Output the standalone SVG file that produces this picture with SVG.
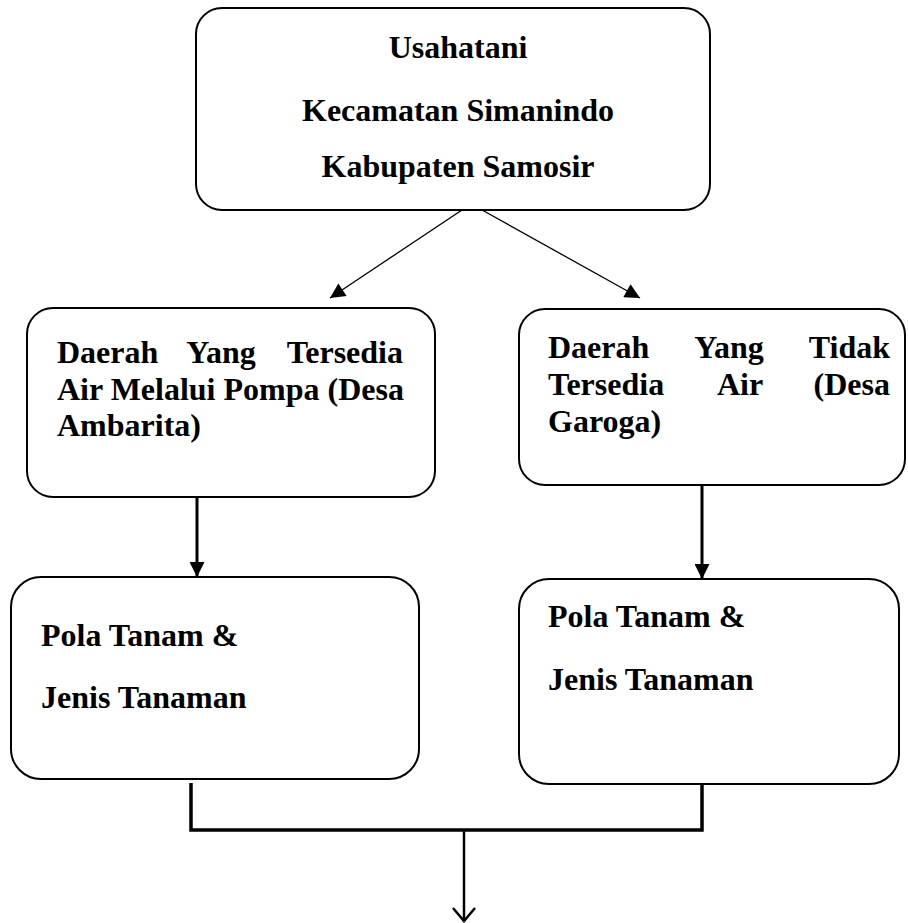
<svg xmlns="http://www.w3.org/2000/svg" width="908" height="923" viewBox="0 0 908 923">
<style>
.box{fill:#fff;stroke:#000;stroke-width:2}
.t{font-family:"Liberation Serif","Times New Roman",serif;font-weight:bold;font-size:32px;fill:#000}
.m{text-anchor:middle}
.e{text-anchor:end}
.thin{stroke:#000;stroke-width:1.3;fill:none}
.thick{stroke:#000;stroke-width:3;fill:none}
</style>
<defs>
<marker id="tri" viewBox="0 0 10 10" refX="10" refY="5" markerUnits="userSpaceOnUse" markerWidth="16" markerHeight="15" orient="auto">
<path d="M0,0 L10,5 L0,10 Z" fill="#000"/>
</marker>
<marker id="tri2" viewBox="0 0 10 10" refX="10" refY="5" markerUnits="userSpaceOnUse" markerWidth="15" markerHeight="15" orient="auto">
<path d="M0,0 L10,5 L0,10 Z" fill="#000"/>
</marker>
</defs>
<rect width="908" height="923" fill="#fff"/>
<g id="connectors">
<line class="thin" x1="462" y1="210" x2="330" y2="298" marker-end="url(#tri)"/>
<line class="thin" x1="482" y1="210" x2="640" y2="298" marker-end="url(#tri)"/>
<line class="thick" x1="197" y1="497" x2="197" y2="577" marker-end="url(#tri2)"/>
<line class="thick" x1="702" y1="485" x2="702" y2="579" marker-end="url(#tri2)"/>
<path d="M191,783 L191,830 L702,830 L702,784" stroke="#000" stroke-width="3.5" fill="none"/>
<line x1="464" y1="830" x2="464" y2="922" stroke="#000" stroke-width="2.5"/>
<path d="M453,908 L464,921 L475,908" stroke="#000" stroke-width="2.5" fill="none"/>
</g>
<g id="node-top">
<rect class="box" x="196" y="8" width="514" height="202" rx="26" ry="26"/>
<text class="t m" x="458" y="58">Usahatani</text>
<text class="t m" x="458" y="121">Kecamatan Simanindo</text>
<text class="t m" x="458" y="177">Kabupaten Samosir</text>
</g>
<g id="node-ambarita">
<rect class="box" x="27" y="308" width="408" height="189" rx="26" ry="26"/>
<text class="t" x="57" y="363">Daerah</text>
<text class="t m" x="221" y="363">Yang</text>
<text class="t e" x="403" y="363">Tersedia</text>
<text class="t" x="57" y="400">Air Melalui Pompa (Desa</text>
<text class="t" x="57" y="436">Ambarita)</text>
</g>
<g id="node-garoga">
<rect class="box" x="519" y="309" width="386" height="176" rx="26" ry="26"/>
<text class="t" x="548" y="358">Daerah</text>
<text class="t m" x="729" y="358">Yang</text>
<text class="t e" x="890" y="358">Tidak</text>
<text class="t" x="548" y="395">Tersedia</text>
<text class="t m" x="740" y="395">Air</text>
<text class="t e" x="890" y="395">(Desa</text>
<text class="t" x="548" y="432">Garoga)</text>
</g>
<g id="node-pola-left">
<rect class="box" x="11" y="577" width="408" height="202" rx="30" ry="30"/>
<text class="t" x="41" y="646">Pola Tanam &amp;</text>
<text class="t" x="41" y="708">Jenis Tanaman</text>
</g>
<g id="node-pola-right">
<rect class="box" x="519" y="579" width="380" height="205" rx="30" ry="30"/>
<text class="t" x="548" y="627">Pola Tanam &amp;</text>
<text class="t" x="548" y="690">Jenis Tanaman</text>
</g>
</svg>
